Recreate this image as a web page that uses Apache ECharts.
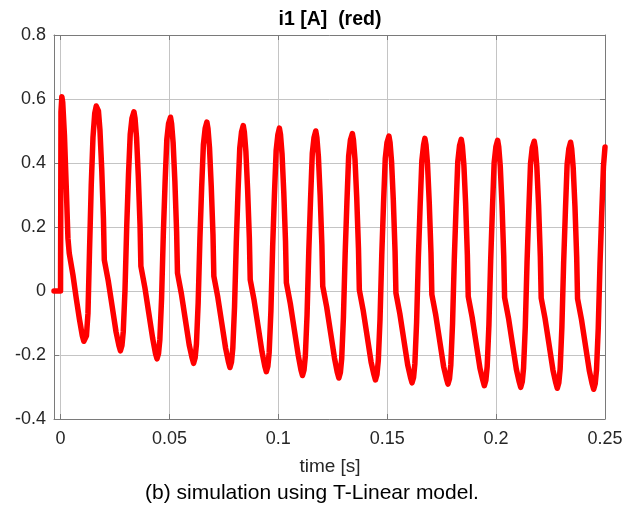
<!DOCTYPE html>
<html>
<head>
<meta charset="utf-8">
<script src="https://cdn.jsdelivr.net/npm/echarts@6.0.0/dist/echarts.min.js"></script>
<style>html,body{margin:0;padding:0;background:#fff;}#chart{width:640px;height:509px;}</style>
</head>
<body>
<div id="chart"></div>
<script>
// Data: [time (s), current (A)]
const cycle01 = [[-0.003,0],[0,0],[0.0002,0.560],[0.0006,0.607],[0.0010,0.590],[0.0018,0.486],[0.0026,0.330],[0.0034,0.165],[0.0040,0.118],[0.0057,0.050],[0.0072,-0.022],[0.0087,-0.089],[0.0100,-0.140],[0.0107,-0.157],[0.0113,-0.160],[0.0119,-0.140],[0.0126,-0.070],[0.0133,0.123],[0.0141,0.330],[0.0149,0.480],[0.0157,0.555],[0.0164,0.578]];
const cycle02 = [[0.0169,0.583],[0.0174,0.563],[0.0181,0.503],[0.0189,0.383],[0.0197,0.227],[0.0201,0.097],[0.0219,0.032],[0.0237,-0.048],[0.0255,-0.128],[0.0268,-0.170],[0.0275,-0.187],[0.0282,-0.170],[0.0288,-0.127],[0.0296,0.003],[0.0304,0.203],[0.0312,0.363],[0.0320,0.490],[0.0328,0.540]];
const cycle03 = [[0.0337,0.560],[0.0342,0.540],[0.0349,0.480],[0.0357,0.360],[0.0365,0.207],[0.0369,0.077],[0.0387,0.012],[0.0405,-0.068],[0.0423,-0.148],[0.0436,-0.195],[0.0443,-0.212],[0.0450,-0.195],[0.0456,-0.152],[0.0464,-0.022],[0.0472,0.178],[0.0480,0.338],[0.0488,0.473],[0.0496,0.523]];
const cycle04 = [[0.0505,0.543],[0.0510,0.523],[0.0517,0.463],[0.0525,0.343],[0.0533,0.186],[0.0537,0.056],[0.0555,-0.009],[0.0573,-0.089],[0.0591,-0.169],[0.0604,-0.209],[0.0611,-0.226],[0.0618,-0.209],[0.0624,-0.166],[0.0632,-0.036],[0.0640,0.164],[0.0648,0.324],[0.0656,0.458],[0.0664,0.508]];
const cycle05 = [[0.0672,0.528],[0.0677,0.508],[0.0684,0.448],[0.0692,0.328],[0.0700,0.176],[0.0704,0.046],[0.0722,-0.019],[0.0740,-0.099],[0.0758,-0.179],[0.0771,-0.222],[0.0778,-0.239],[0.0785,-0.222],[0.0791,-0.179],[0.0799,-0.049],[0.0807,0.151],[0.0815,0.311],[0.0823,0.447],[0.0831,0.497]];
const cycle06 = [[0.0839,0.517],[0.0844,0.497],[0.0851,0.437],[0.0859,0.317],[0.0867,0.165],[0.0871,0.035],[0.0889,-0.030],[0.0907,-0.110],[0.0925,-0.190],[0.0938,-0.235],[0.0945,-0.252],[0.0952,-0.235],[0.0958,-0.192],[0.0966,-0.062],[0.0974,0.138],[0.0982,0.298],[0.0990,0.439],[0.0998,0.489]];
const cycle07 = [[0.1005,0.509],[0.1010,0.489],[0.1017,0.429],[0.1025,0.309],[0.1033,0.156],[0.1037,0.026],[0.1055,-0.039],[0.1073,-0.119],[0.1091,-0.199],[0.1104,-0.247],[0.1111,-0.264],[0.1118,-0.247],[0.1124,-0.204],[0.1132,-0.074],[0.1140,0.126],[0.1148,0.286],[0.1156,0.430],[0.1164,0.480]];
const cycle08 = [[0.1172,0.500],[0.1177,0.480],[0.1184,0.420],[0.1192,0.300],[0.1200,0.145],[0.1204,0.015],[0.1222,-0.050],[0.1240,-0.130],[0.1258,-0.210],[0.1271,-0.255],[0.1278,-0.272],[0.1285,-0.255],[0.1291,-0.212],[0.1299,-0.082],[0.1307,0.118],[0.1315,0.278],[0.1323,0.422],[0.1331,0.472]];
const cycle09 = [[0.1340,0.492],[0.1345,0.472],[0.1352,0.412],[0.1360,0.292],[0.1368,0.133],[0.1372,0.003],[0.1390,-0.062],[0.1408,-0.142],[0.1426,-0.222],[0.1439,-0.261],[0.1446,-0.278],[0.1453,-0.261],[0.1459,-0.218],[0.1467,-0.088],[0.1475,0.112],[0.1483,0.272],[0.1491,0.414],[0.1499,0.464]];
const cycle10 = [[0.1508,0.484],[0.1513,0.464],[0.1520,0.404],[0.1528,0.284],[0.1536,0.124],[0.1540,-0.006],[0.1558,-0.071],[0.1576,-0.151],[0.1594,-0.231],[0.1607,-0.270],[0.1614,-0.287],[0.1621,-0.270],[0.1627,-0.227],[0.1635,-0.097],[0.1643,0.103],[0.1651,0.263],[0.1659,0.407],[0.1667,0.457]];
const cycle11 = [[0.1673,0.477],[0.1678,0.457],[0.1685,0.397],[0.1693,0.277],[0.1701,0.119],[0.1705,-0.011],[0.1723,-0.076],[0.1741,-0.156],[0.1759,-0.236],[0.1772,-0.274],[0.1779,-0.291],[0.1786,-0.274],[0.1792,-0.231],[0.1800,-0.101],[0.1808,0.099],[0.1816,0.259],[0.1824,0.404],[0.1832,0.454]];
const cycle12 = [[0.1840,0.474],[0.1845,0.454],[0.1852,0.394],[0.1860,0.274],[0.1868,0.113],[0.1872,-0.017],[0.1890,-0.082],[0.1908,-0.162],[0.1926,-0.242],[0.1939,-0.279],[0.1946,-0.296],[0.1953,-0.279],[0.1959,-0.236],[0.1967,-0.106],[0.1975,0.094],[0.1983,0.254],[0.1991,0.401],[0.1999,0.451]];
const cycle13 = [[0.2007,0.471],[0.2012,0.451],[0.2019,0.391],[0.2027,0.271],[0.2035,0.110],[0.2039,-0.020],[0.2057,-0.085],[0.2075,-0.165],[0.2093,-0.245],[0.2106,-0.284],[0.2113,-0.301],[0.2120,-0.284],[0.2126,-0.241],[0.2134,-0.111],[0.2142,0.089],[0.2150,0.249],[0.2158,0.398],[0.2166,0.448]];
const cycle14 = [[0.2175,0.468],[0.2180,0.448],[0.2187,0.388],[0.2195,0.268],[0.2203,0.108],[0.2207,-0.022],[0.2225,-0.087],[0.2243,-0.167],[0.2261,-0.247],[0.2274,-0.287],[0.2281,-0.304],[0.2288,-0.287],[0.2294,-0.244],[0.2302,-0.114],[0.2310,0.086],[0.2318,0.246],[0.2326,0.395],[0.2334,0.445]];
const cycle15 = [[0.2342,0.465],[0.2347,0.445],[0.2354,0.385],[0.2362,0.265],[0.2370,0.106],[0.2374,-0.024],[0.2392,-0.089],[0.2410,-0.169],[0.2428,-0.249],[0.2441,-0.290],[0.2448,-0.307],[0.2455,-0.290],[0.2461,-0.247],[0.2469,-0.117],[0.2477,0.083],[0.2485,0.243],[0.2493,0.390],[0.2500,0.450]];

const xTicks = [0, 0.05, 0.1, 0.15, 0.2, 0.25];
const yTicks = [-0.4, -0.2, 0, 0.2, 0.4, 0.6, 0.8];
const titleText = 'i1 [A]  (red)';
const xLabelText = 'time [s]';
const captionText = '(b) simulation using T-Linear model.';

const current = [].concat(cycle01, cycle02, cycle03, cycle04, cycle05, cycle06, cycle07, cycle08,
  cycle09, cycle10, cycle11, cycle12, cycle13, cycle14, cycle15);

const FONT = '"Liberation Sans", Arial, Helvetica, sans-serif';
const AX = '#7a7a7a';
const GRID = '#c4c4c4';

const chart = echarts.init(document.getElementById('chart'), null, {renderer: 'canvas'});
const xCommon = {type: 'value', min: -0.003, max: 0.25};
const yCommon = {type: 'value', min: -0.4, max: 0.8};
chart.setOption({
  animation: false,
  backgroundColor: '#ffffff',
  grid: {left: 54, right: 35, top: 35, bottom: 90, containLabel: false},
  xAxis: [
    Object.assign({}, xCommon, {
      position: 'bottom',
      axisLine: {show: true, onZero: false, lineStyle: {color: AX, width: 1}},
      axisTick: {show: true, inside: true, length: 5, customValues: xTicks, lineStyle: {color: AX}},
      axisLabel: {show: true, customValues: xTicks, margin: 11, color: '#262626', fontSize: 18, fontFamily: FONT,
        formatter: v => String(v)},
      splitLine: {show: true, lineStyle: {color: GRID, width: 1}}
    }),
    Object.assign({}, xCommon, {
      position: 'top',
      axisLine: {show: true, onZero: false, lineStyle: {color: AX, width: 1}},
      axisTick: {show: true, inside: true, length: 5, customValues: xTicks, lineStyle: {color: AX}},
      axisLabel: {show: false},
      splitLine: {show: false}
    })
  ],
  yAxis: [
    Object.assign({}, yCommon, {
      position: 'left',
      axisLine: {show: true, onZero: false, lineStyle: {color: AX, width: 1}},
      axisTick: {show: true, inside: true, length: 5, customValues: yTicks, lineStyle: {color: AX}},
      axisLabel: {show: true, customValues: yTicks, margin: 8, color: '#262626', fontSize: 18, fontFamily: FONT,
        formatter: v => String(Math.round(v * 10) / 10)},
      splitLine: {show: true, lineStyle: {color: GRID, width: 1}}
    }),
    Object.assign({}, yCommon, {
      position: 'right',
      axisLine: {show: true, onZero: false, lineStyle: {color: AX, width: 1}},
      axisTick: {show: true, inside: true, length: 5, customValues: yTicks, lineStyle: {color: AX}},
      axisLabel: {show: false},
      splitLine: {show: false}
    })
  ],
  series: [{
    type: 'line',
    xAxisIndex: 0,
    yAxisIndex: 0,
    data: current,
    showSymbol: false,
    symbol: 'none',
    clip: true,
    smooth: false,
    lineStyle: {color: '#ff0000', width: 5.5, join: 'round', cap: 'round'}
  }],
  graphic: [
    {type: 'text', x: 330, y: 20, style: {text: titleText, textAlign: 'center', textVerticalAlign: 'middle', fill: '#000', fontSize: 19.5, fontWeight: 'bold', fontFamily: FONT}},
    {type: 'text', x: 330, y: 467, style: {text: xLabelText, textAlign: 'center', textVerticalAlign: 'middle', fill: '#262626', fontSize: 19, fontFamily: FONT}},
    {type: 'text', x: 312, y: 493, style: {text: captionText, textAlign: 'center', textVerticalAlign: 'middle', fill: '#000', fontSize: 21, fontFamily: FONT}}
  ]
});
</script>
</body>
</html>
